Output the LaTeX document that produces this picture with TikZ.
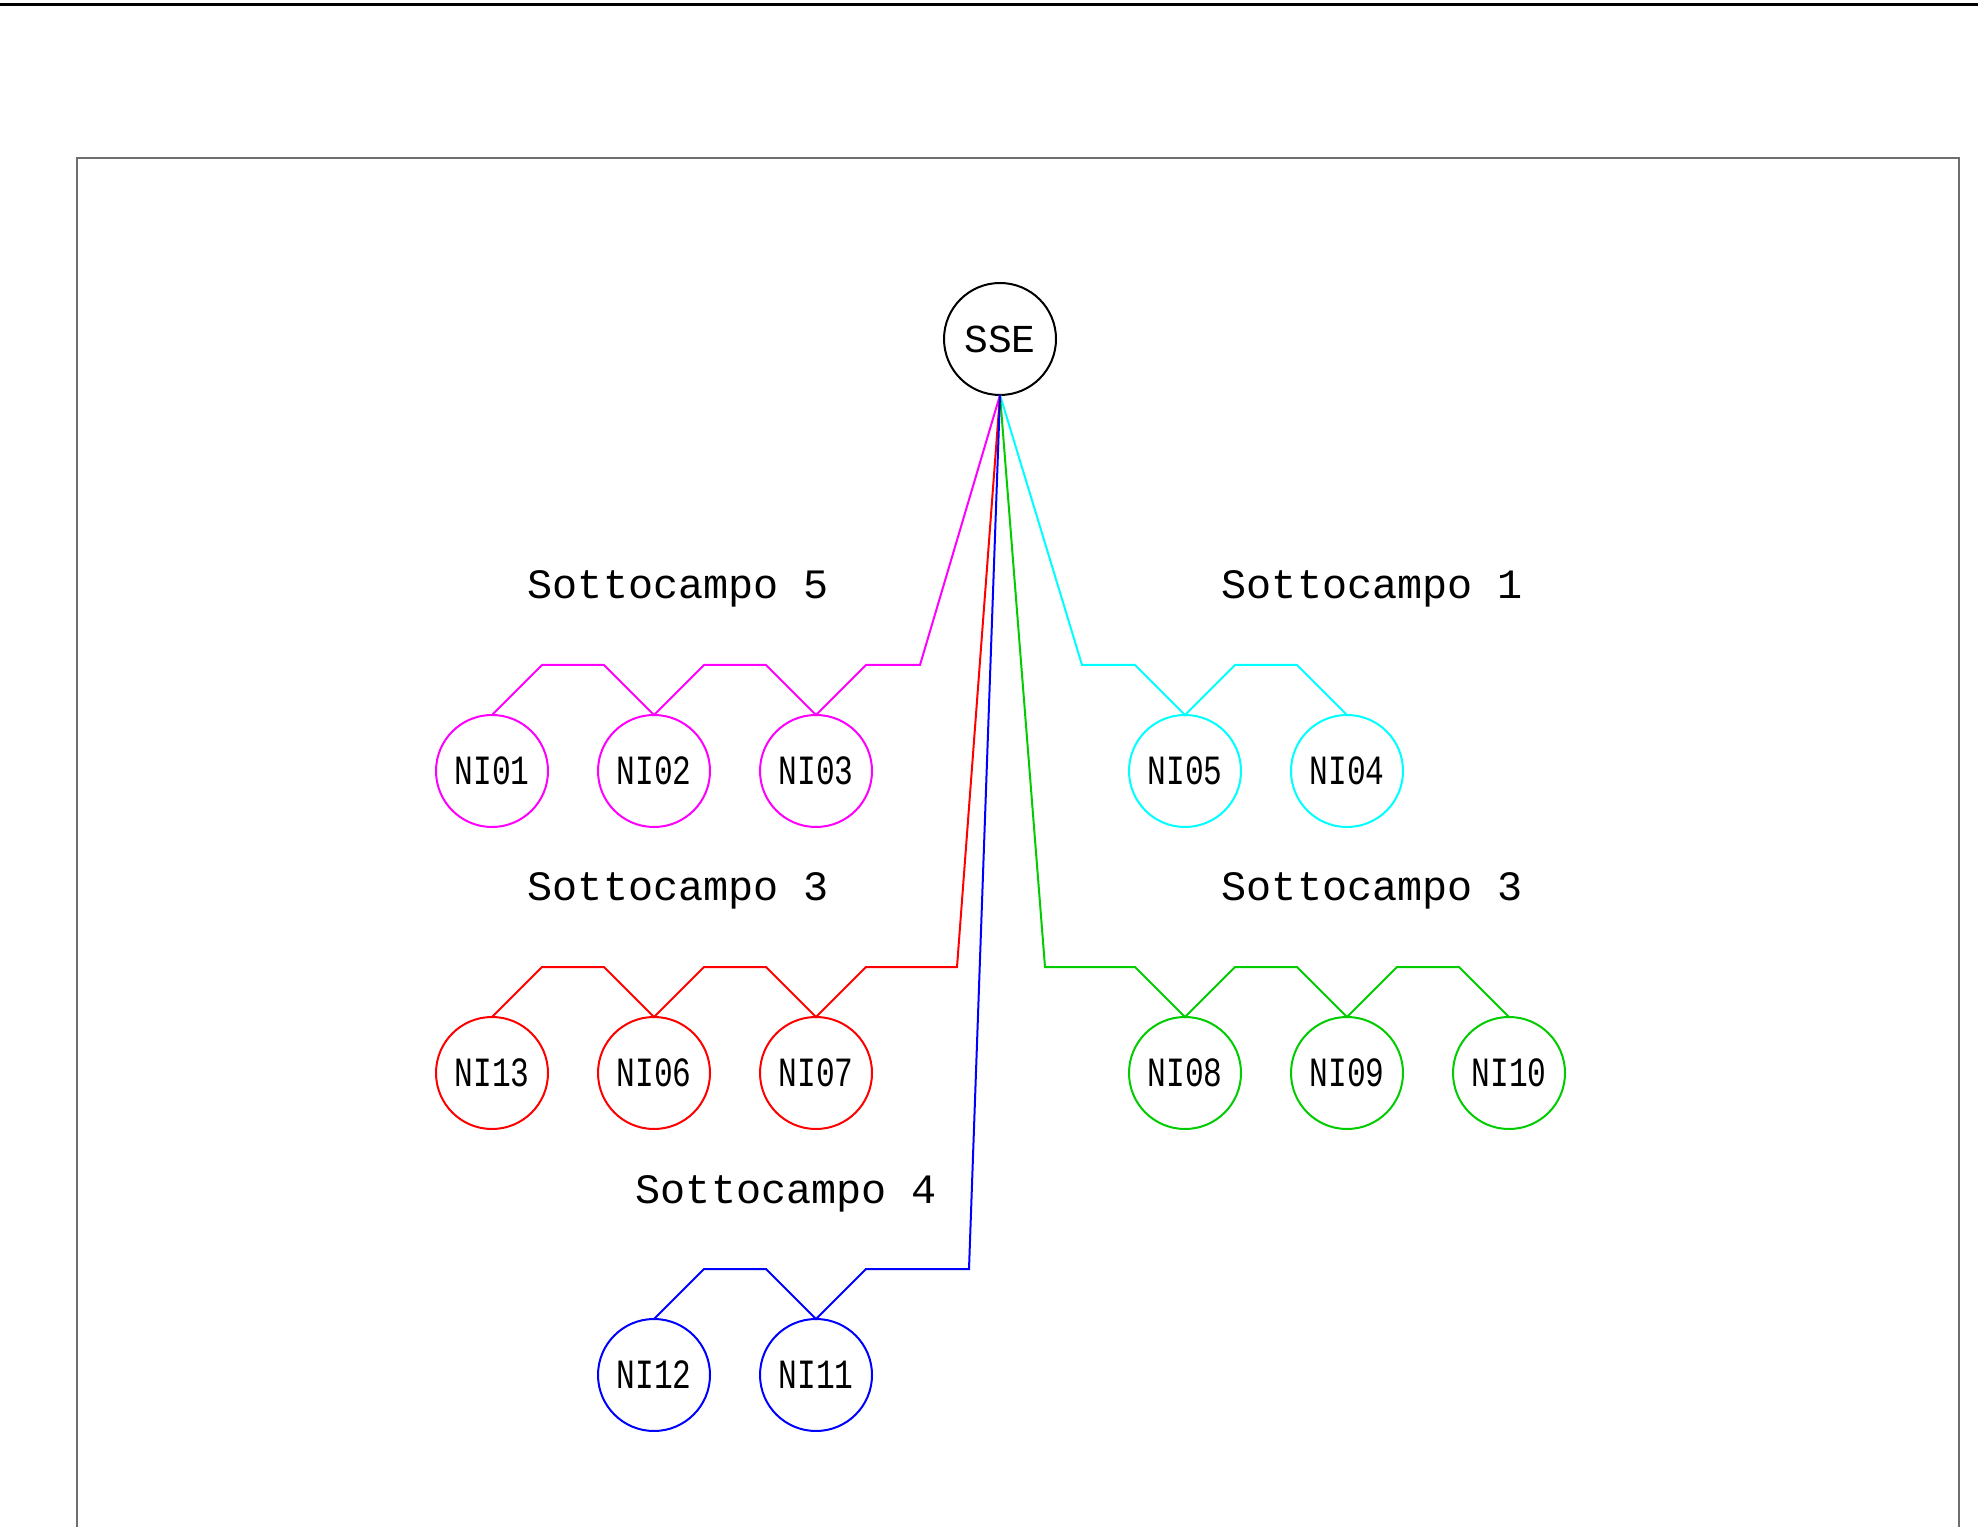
\documentclass[tikz,border=0pt]{standalone}
\usepackage{fontspec}
\setmonofont{Liberation Mono}
\newfontfamily\nifont[FakeStretch=0.75]{Liberation Mono}
\usetikzlibrary{positioning}
\definecolor{cadmagenta}{RGB}{255,0,255}
\definecolor{cadcyan}{RGB}{0,255,255}
\definecolor{cadred}{RGB}{255,0,0}
\definecolor{cadgreen}{RGB}{0,204,0}
\definecolor{cadblue}{RGB}{0,0,255}
\definecolor{framegray}{RGB}{110,110,110}

\begin{document}
\begin{tikzpicture}[
	x=0.25pt, y=-0.25pt,
	ni/.style={
	  draw,
	  circle,
	  inner sep=0pt,
	  outer sep=0pt,
	  minimum size=28pt,
	  line width=0.5pt,
	  font=\nifont\fontsize{10.4}{10.4}\selectfont
	},
	sub/.style={
	  anchor=base west,
	  inner sep=0pt,
	  font=\ttfamily\fontsize{10.45}{10.45}\selectfont
	},
	wire/.style={line width=0.5pt},
	node distance=12.5pt
]
\useasboundingbox (0,0) rectangle (1978,1527);

% sheet frame
\draw[line width=0.75pt] (0,5) -- (1978,5);
\draw[framegray,line width=0.4pt] (77,1527) -- (77,158) -- (1959,158) -- (1959,1527);

% substation
\node[ni,font=\ttfamily\fontsize{9.9}{9.9}\selectfont] (sse) at (1000,339) {SSE};

% Sottocampo 5
\node[ni,draw=cadmagenta] at (492,771) (ni01) {NI01};
\node[ni,draw=cadmagenta,right=of ni01] (ni02) {NI02};
\node[ni,draw=cadmagenta,right=of ni02] (ni03) {NI03};
\node[sub] (s5) at (527,599) {Sottocampo 5};

% Sottocampo 1
\node[ni,draw=cadcyan] at (1185,771) (ni05) {NI05};
\node[ni,draw=cadcyan,right=of ni05] (ni04) {NI04};
\node[sub] (s1) at (1221,599) {Sottocampo 1};

% Sottocampo 3 (left)
\node[ni,draw=cadred] at (492,1073) (ni13) {NI13};
\node[ni,draw=cadred,right=of ni13] (ni06) {NI06};
\node[ni,draw=cadred,right=of ni06] (ni07) {NI07};
\node[sub] (s3a) at (527,901) {Sottocampo 3};

% Sottocampo 3 (right)
\node[ni,draw=cadgreen] at (1185,1073) (ni08) {NI08};
\node[ni,draw=cadgreen,right=of ni08] (ni09) {NI09};
\node[ni,draw=cadgreen,right=of ni09] (ni10) {NI10};
\node[sub] (s3b) at (1221,901) {Sottocampo 3};

% Sottocampo 4
\node[ni,draw=cadblue] at (654,1375) (ni12) {NI12};
\node[ni,draw=cadblue,right=of ni12] (ni11) {NI11};
\node[sub] (s4) at (635,1203) {Sottocampo 4};

% cables
\draw[wire,cadmagenta] (ni01.north) -- ++(50,-50) -- ++(62,0) -- (ni02.north)
  -- ++(50,-50) -- ++(62,0) -- (ni03.north) -- ++(50,-50) -- ++(54,0) -- (sse.south);
\draw[wire,cadcyan] (ni04.north) -- ++(-50,-50) -- ++(-62,0) -- (ni05.north)
  -- ++(-50,-50) -- ++(-53,0) -- (sse.south);
\draw[wire,cadred] (ni13.north) -- ++(50,-50) -- ++(62,0) -- (ni06.north)
  -- ++(50,-50) -- ++(62,0) -- (ni07.north) -- ++(50,-50) -- ++(91,0) -- (sse.south);
\draw[wire,cadgreen] (ni10.north) -- ++(-50,-50) -- ++(-62,0) -- (ni09.north)
  -- ++(-50,-50) -- ++(-62,0) -- (ni08.north) -- ++(-50,-50) -- ++(-90,0) -- (sse.south);
\draw[wire,cadblue] (ni12.north) -- ++(50,-50) -- ++(62,0) -- (ni11.north)
  -- ++(50,-50) -- ++(103,0) -- (sse.south);

\end{tikzpicture}
\end{document}
